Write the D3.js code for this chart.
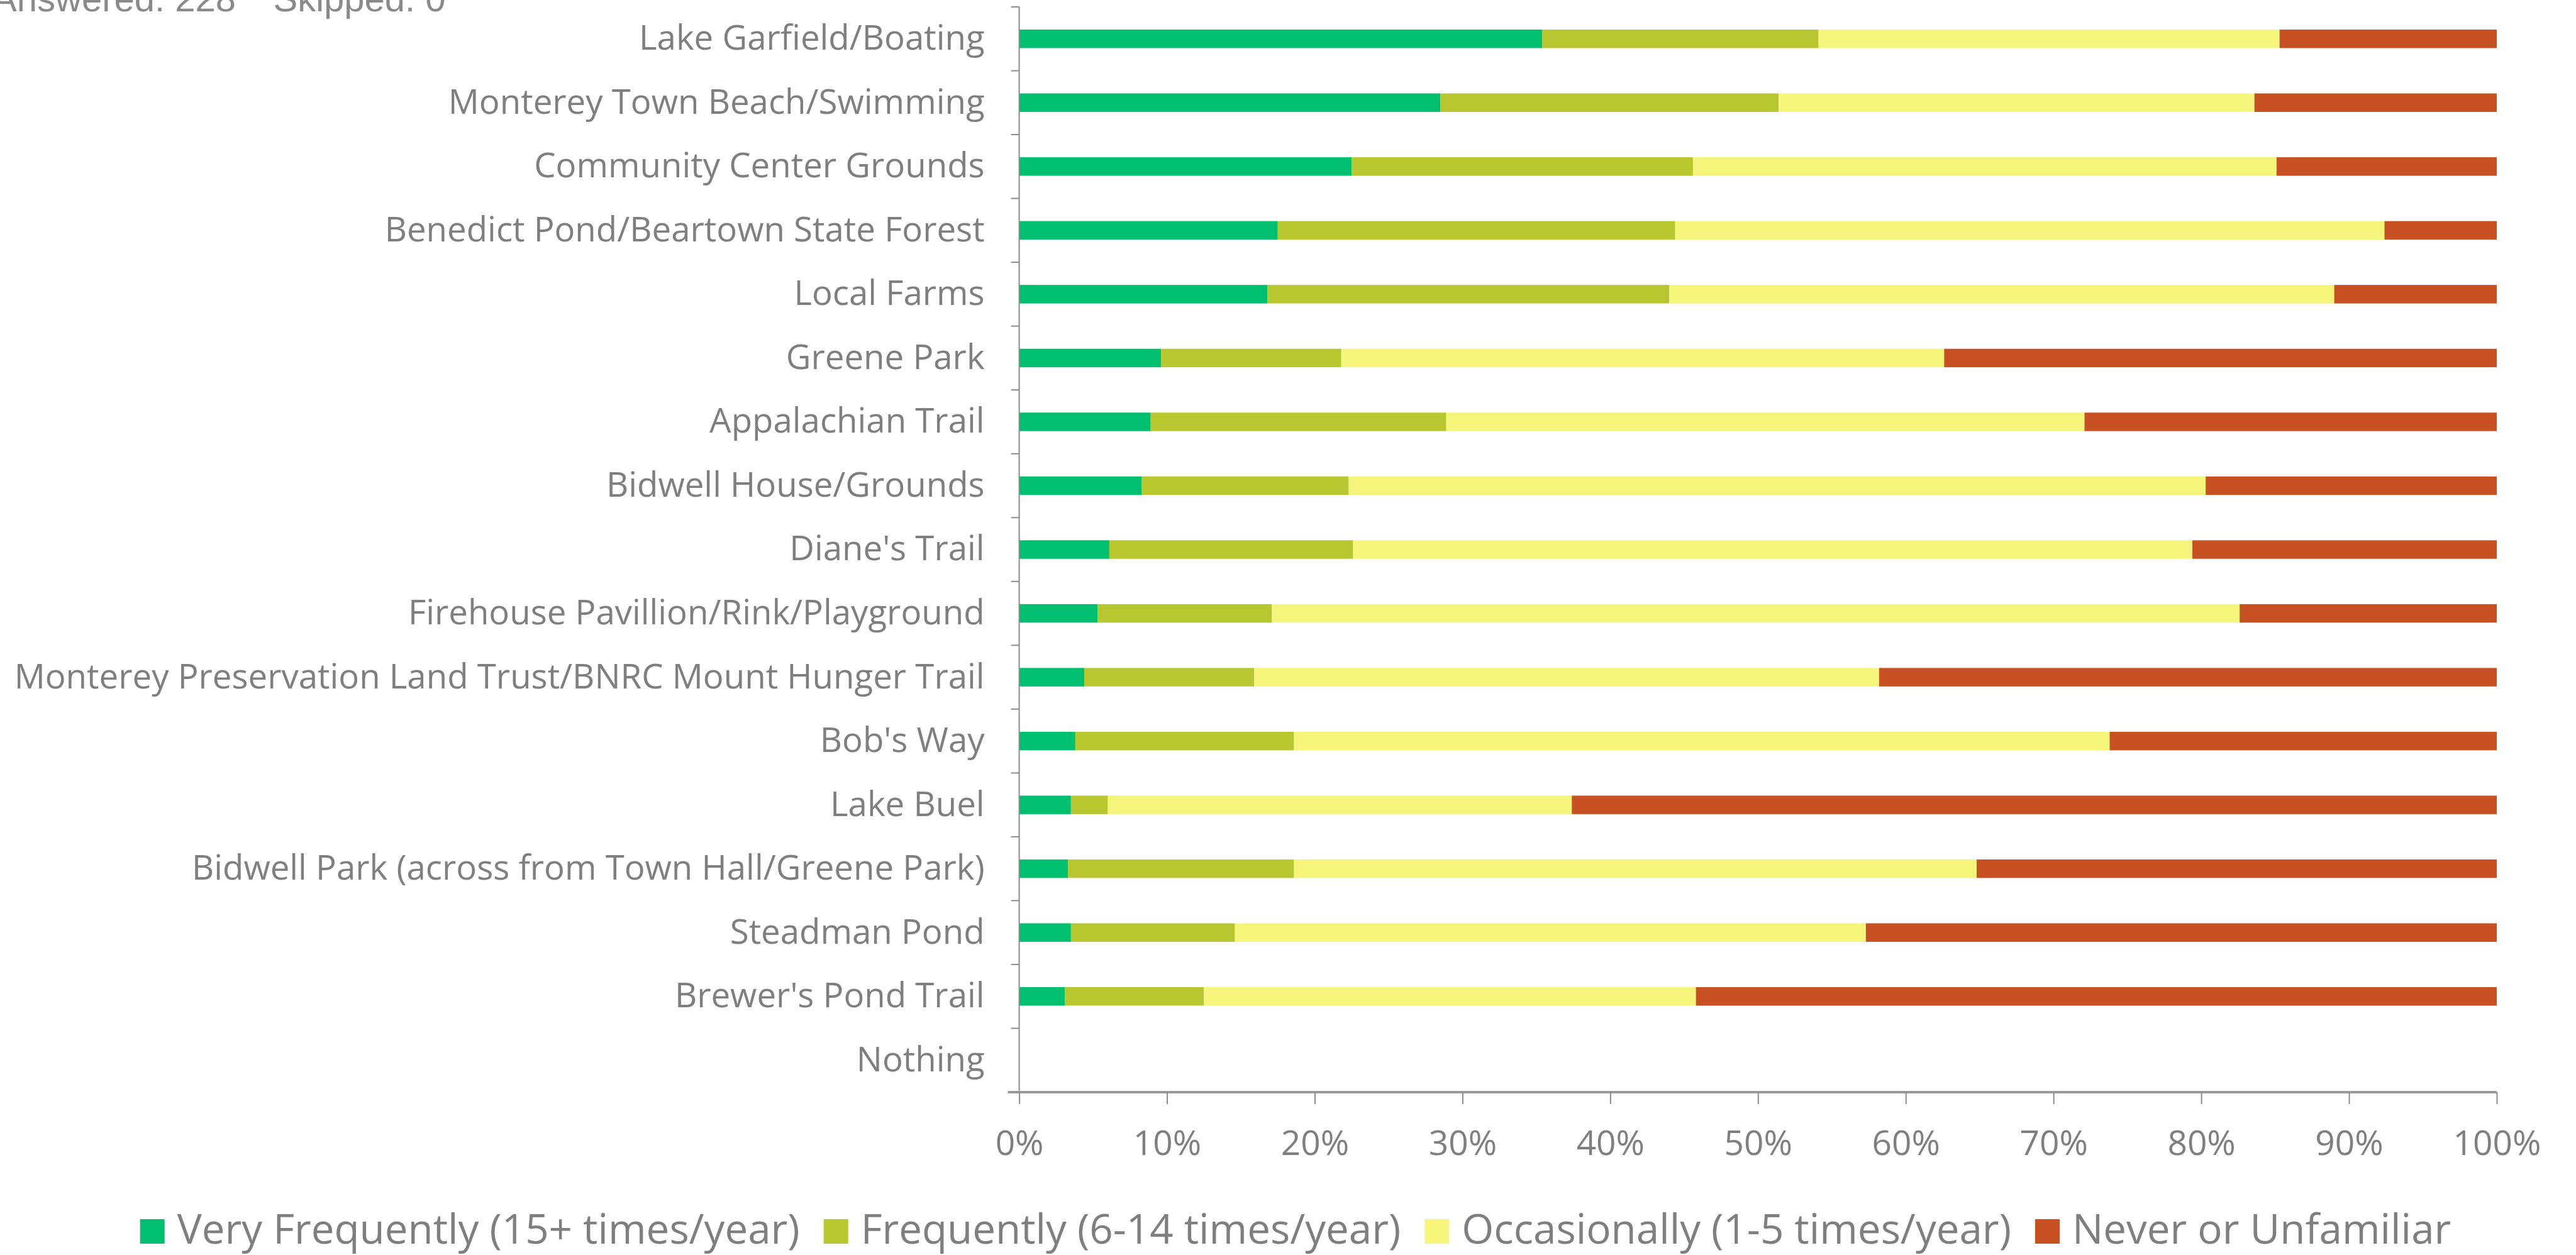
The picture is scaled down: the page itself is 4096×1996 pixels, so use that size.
<!DOCTYPE html>
<html>
<head>
<meta charset="utf-8">
<script src="https://cdn.jsdelivr.net/npm/d3@7"></script>
<style>
  html, body { margin: 0; padding: 0; background: #fff; overflow: hidden; }
  svg { display: block; }
</style>
</head>
<body>
<svg id="chart" width="4096" height="1996"></svg>
<script>
// ---------- DATA ----------
const categories = [
  "Lake Garfield/Boating",
  "Monterey Town Beach/Swimming",
  "Community Center Grounds",
  "Benedict Pond/Beartown State Forest",
  "Local Farms",
  "Greene Park",
  "Appalachian Trail",
  "Bidwell House/Grounds",
  "Diane's Trail",
  "Firehouse Pavillion/Rink/Playground",
  "Monterey Preservation Land Trust/BNRC Mount Hunger Trail",
  "Bob's Way",
  "Lake Buel",
  "Bidwell Park (across from Town Hall/Greene Park)",
  "Steadman Pond",
  "Brewer's Pond Trail",
  "Nothing"
];
const seriesNames = [
  "Very Frequently (15+ times/year)",
  "Frequently (6-14 times/year)",
  "Occasionally (1-5 times/year)",
  "Never or Unfamiliar"
];
const veryFrequently = [35.4, 28.5, 22.5, 17.5, 16.8, 9.6, 8.9, 8.3, 6.1, 5.3, 4.4, 3.8, 3.5, 3.3, 3.5, 3.1, 0];
const frequently     = [18.7, 22.9, 23.1, 26.9, 27.2, 12.2, 20.0, 14.0, 16.5, 11.8, 11.5, 14.8, 2.5, 15.3, 11.1, 9.4, 0];
const occasionally   = [31.2, 32.2, 39.5, 48.0, 45.0, 40.8, 43.2, 58.0, 56.8, 65.5, 42.3, 55.2, 31.4, 46.2, 42.7, 33.3, 0];
const never          = [14.7, 16.4, 14.9, 7.6, 11.0, 37.4, 27.9, 19.7, 20.6, 17.4, 41.8, 26.2, 62.6, 35.2, 42.7, 54.2, 0];
const xTicks = [0, 10, 20, 30, 40, 50, 60, 70, 80, 90, 100];
const answeredText = "Answered: 228";
const skippedText = "Skipped: 0";

// ---------- STYLE ----------
const colors = ["#00bf6f", "#b8c72f", "#f5f47b", "#c75122"];
const textGray = "#7f7f7f";
const labelFont = "'Open Sans', 'Noto Sans', sans-serif";

// ---------- LAYOUT ----------
const svg = d3.select("#chart");
const plotLeft = 1620.6, plotRight = 3970, plotTop = 11, plotBottom = 1737;

const table = categories.map((c, i) => ({
  cat: c, v0: veryFrequently[i], v1: frequently[i], v2: occasionally[i], v3: never[i]
}));
const keys = ["v0", "v1", "v2", "v3"];
const stacked = d3.stack().keys(keys)(table);

const x = d3.scaleLinear().domain([0, 100]).range([plotLeft, plotRight]);
const y = d3.scaleBand().domain(categories).range([plotTop, plotBottom])
  .paddingInner(0.71).paddingOuter(0.355);

// bars
svg.append("g").selectAll("g").data(stacked).join("g")
  .attr("fill", (d, i) => colors[i])
  .selectAll("rect").data(d => d).join("rect")
  .attr("x", d => x(d[0]))
  .attr("y", d => y(d.data.cat))
  .attr("width", d => Math.max(0, x(d[1]) - x(d[0])))
  .attr("height", y.bandwidth());

// y axis (labels)
const yAxis = svg.append("g").attr("transform", `translate(${plotLeft},0)`)
  .call(d3.axisLeft(y).tickSize(0).tickPadding(55));
yAxis.select(".domain").remove();
yAxis.selectAll("text")
  .attr("fill", textGray)
  .style("font-family", labelFont)
  .style("font-size", "54.6px")
  .attr("dy", "0.32em");

// y axis line + boundary ticks
const step = (plotBottom - plotTop) / categories.length;
const bounds = d3.range(categories.length + 1).map(i => plotTop + i * step);
svg.append("line").attr("x1", plotLeft).attr("x2", plotLeft).attr("y1", plotTop).attr("y2", plotBottom)
  .attr("stroke", "#8c8c8c").attr("stroke-width", 2);
svg.append("g").selectAll("line").data(bounds).join("line")
  .attr("x1", plotLeft - 13).attr("x2", plotLeft).attr("y1", d => d).attr("y2", d => d)
  .attr("stroke", "#8c8c8c").attr("stroke-width", 2);

// x axis
const xAxis = svg.append("g").attr("transform", `translate(0,${plotBottom})`)
  .call(d3.axisBottom(x).tickValues(xTicks).tickFormat(d => d + "%")
    .tickSize(19).tickSizeOuter(0).tickPadding(42));
xAxis.select(".domain").attr("stroke", "#9a9a9a").attr("stroke-width", 4)
  .attr("d", `M${plotLeft - 18},0H${plotRight}`);
xAxis.selectAll(".tick line").attr("stroke", "#8c8c8c").attr("stroke-width", 2);
xAxis.selectAll("text")
  .attr("fill", textGray)
  .style("font-family", labelFont)
  .style("font-size", "55px");

// top-left info text
svg.append("text").attr("x", 375).attr("y", 17.5).attr("text-anchor", "end")
  .attr("fill", "#8a8a8a").style("font-family", "'Liberation Sans', Arial, sans-serif")
  .style("font-size", "58px").text(answeredText);
svg.append("text").attr("x", 434.5).attr("y", 17.5)
  .attr("fill", "#8a8a8a").style("font-family", "'Liberation Sans', Arial, sans-serif")
  .style("font-size", "58px").text(skippedText);

// legend
const legend = svg.append("g");
const sq = 39, gapText = 20, gapItem = 38, legFont = 65.5, legBase = 1978;
const items = legend.selectAll("g").data(seriesNames).join("g");
items.append("rect").attr("width", sq).attr("height", sq)
  .attr("y", legBase - sq).attr("fill", (d, i) => colors[i]);
items.append("text").attr("x", sq + gapText).attr("y", legBase)
  .attr("fill", textGray).style("font-family", labelFont)
  .style("font-size", legFont + "px").text(d => d);
const widths = [];
items.each(function() {
  const w = d3.select(this).select("text").node().getComputedTextLength();
  widths.push(sq + gapText + w);
});
const total = d3.sum(widths) + gapItem * (widths.length - 1);
let startX = 2060 - total / 2;
items.attr("transform", (d, i) => {
  const tx = startX;
  startX += widths[i] + gapItem;
  return `translate(${tx},0)`;
});
</script>
</body>
</html>
